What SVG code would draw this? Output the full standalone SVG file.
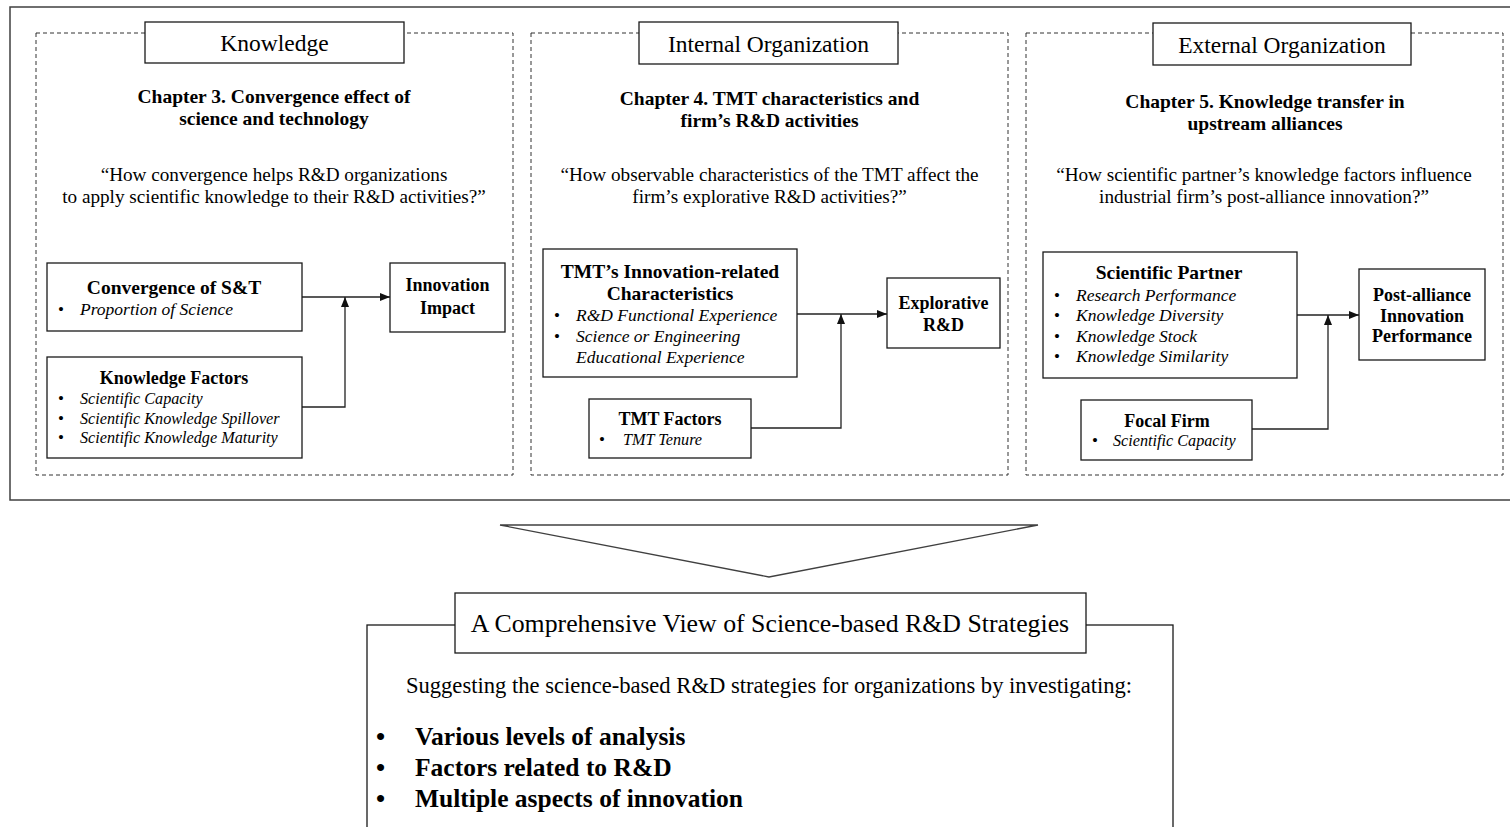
<svg xmlns="http://www.w3.org/2000/svg" width="1510" height="827" viewBox="0 0 1510 827">
<defs>
<style>
.t{font-family:"Liberation Serif","Times New Roman",serif;fill:#000}
.box{fill:#fff;stroke:#1a1a1a;stroke-width:1.3}
.panel{fill:none;stroke:#333;stroke-width:1;stroke-dasharray:4 3}
.outer{fill:none;stroke:#404040;stroke-width:1.5}
.hdr{font-size:23.5px;text-anchor:middle}
.ch{font-size:19.5px;font-weight:bold;text-anchor:middle}
.q{font-size:19.2px;text-anchor:middle}
.bt{font-size:19.5px;font-weight:bold;text-anchor:middle}
.bs{font-size:18px;font-weight:bold;text-anchor:middle}
.it{font-size:17.5px;font-style:italic}
.its{font-size:16.2px;font-style:italic}
.bul{font-size:17px}
.conn{fill:none;stroke:#222;stroke-width:1.3}
.big{font-size:25.8px;text-anchor:middle}
.sug{font-size:22.6px;text-anchor:middle}
.bb{font-size:25.5px;font-weight:bold}
</style>
<marker id="ah" markerWidth="10" markerHeight="8" refX="10" refY="4" orient="auto" markerUnits="userSpaceOnUse">
<path d="M0,0 L10,4 L0,8 Z" fill="#111"/>
</marker>
</defs>
<rect width="1510" height="827" fill="#fff"/>
<rect class="outer" x="10" y="7" width="1505" height="493"/>

<g id="panel-knowledge">
<rect class="panel" x="36" y="33" width="477" height="442"/>
<rect class="box" x="145" y="22" width="259" height="41"/>
<text class="t hdr" x="274.5" y="51">Knowledge</text>
<text class="t ch" x="274" y="102.5">Chapter 3. Convergence effect of</text>
<text class="t ch" x="274" y="124.5">science and technology</text>
<text class="t q" x="274" y="181">“How convergence helps R&amp;D organizations</text>
<text class="t q" x="274" y="203">to apply scientific knowledge to their R&amp;D activities?”</text>
</g>

<g id="panel-internal">
<rect class="panel" x="531" y="33" width="477" height="442"/>
<rect class="box" x="639" y="22" width="259" height="42"/>
<text class="t hdr" x="768.5" y="52">Internal Organization</text>
<text class="t ch" x="769.5" y="105">Chapter 4. TMT characteristics and</text>
<text class="t ch" x="769.5" y="127">firm’s R&amp;D activities</text>
<text class="t q" x="769.5" y="181">“How observable characteristics of the TMT affect the</text>
<text class="t q" x="769.5" y="203">firm’s explorative R&amp;D activities?”</text>
</g>

<g id="panel-external">
<rect class="panel" x="1026" y="33" width="477" height="442"/>
<rect class="box" x="1153" y="23" width="258" height="42"/>
<text class="t hdr" x="1282" y="53">External Organization</text>
<text class="t ch" x="1265" y="108">Chapter 5. Knowledge transfer in</text>
<text class="t ch" x="1265" y="130">upstream alliances</text>
<text class="t q" x="1264" y="181">“How scientific partner’s knowledge factors influence</text>
<text class="t q" x="1264" y="203">industrial firm’s post-alliance innovation?”</text>
</g>

<g id="connectors">
<line class="conn" x1="302" y1="297" x2="390" y2="297" marker-end="url(#ah)"/>
<polyline class="conn" points="302,407 345,407 345,297" marker-end="url(#ah)"/>
<line class="conn" x1="797" y1="314" x2="887" y2="314" marker-end="url(#ah)"/>
<polyline class="conn" points="751,428 841,428 841,314" marker-end="url(#ah)"/>
<line class="conn" x1="1297" y1="315" x2="1359" y2="315" marker-end="url(#ah)"/>
<polyline class="conn" points="1252,429 1328,429 1328,315" marker-end="url(#ah)"/>
</g>

<g id="node-convergence">
<rect class="box" x="47" y="263" width="255" height="68"/>
<text class="t bt" x="174" y="294">Convergence of S&amp;T</text>
<text class="t bul" x="58" y="315">•</text>
<text class="t it" x="80" y="315">Proportion of Science</text>
</g>

<g id="node-innovation-impact">
<rect class="box" x="390" y="263" width="115" height="69"/>
<text class="t bs" x="447.5" y="291">Innovation</text>
<text class="t bs" x="447.5" y="314">Impact</text>
</g>

<g id="node-knowledge-factors">
<rect class="box" x="47" y="357" width="255" height="101"/>
<text class="t bs" x="174" y="384">Knowledge Factors</text>
<text class="t bul" x="58" y="404">•</text>
<text class="t its" x="80" y="404">Scientific Capacity</text>
<text class="t bul" x="58" y="424">•</text>
<text class="t its" x="80" y="424">Scientific Knowledge Spillover</text>
<text class="t bul" x="58" y="443">•</text>
<text class="t its" x="80" y="443">Scientific Knowledge Maturity</text>
</g>

<g id="node-tmt-characteristics">
<rect class="box" x="543" y="249" width="254" height="128"/>
<text class="t bt" x="670" y="278">TMT’s Innovation-related</text>
<text class="t bt" x="670" y="300">Characteristics</text>
<text class="t bul" x="554" y="321">•</text>
<text class="t it" x="576" y="321">R&amp;D Functional Experience</text>
<text class="t bul" x="554" y="342">•</text>
<text class="t it" x="576" y="342">Science or Engineering</text>
<text class="t it" x="576" y="363">Educational Experience</text>
</g>

<g id="node-explorative">
<rect class="box" x="887" y="278" width="113" height="70"/>
<text class="t bs" x="943.5" y="309">Explorative</text>
<text class="t bs" x="943.5" y="331">R&amp;D</text>
</g>

<g id="node-tmt-factors">
<rect class="box" x="589" y="399" width="162" height="59"/>
<text class="t bs" x="670" y="425">TMT Factors</text>
<text class="t bul" x="599" y="445">•</text>
<text class="t its" x="623" y="445">TMT Tenure</text>
</g>

<g id="node-scientific-partner">
<rect class="box" x="1043" y="252" width="254" height="126"/>
<text class="t bt" x="1169" y="279">Scientific Partner</text>
<text class="t bul" x="1054" y="301">•</text>
<text class="t it" x="1076" y="301">Research Performance</text>
<text class="t bul" x="1054" y="321">•</text>
<text class="t it" x="1076" y="321">Knowledge Diversity</text>
<text class="t bul" x="1054" y="342">•</text>
<text class="t it" x="1076" y="342">Knowledge Stock</text>
<text class="t bul" x="1054" y="362">•</text>
<text class="t it" x="1076" y="362">Knowledge Similarity</text>
</g>

<g id="node-post-alliance">
<rect class="box" x="1359" y="269" width="126" height="91"/>
<text class="t bs" x="1422" y="301">Post-alliance</text>
<text class="t bs" x="1422" y="322">Innovation</text>
<text class="t bs" x="1422" y="342">Performance</text>
</g>

<g id="node-focal-firm">
<rect class="box" x="1081" y="400" width="171" height="60"/>
<text class="t bs" x="1167" y="427">Focal Firm</text>
<text class="t bul" x="1092" y="446">•</text>
<text class="t its" x="1113" y="446">Scientific Capacity</text>
</g>

<g id="chevron">
<polygon points="500,525 1038,525 769,577" fill="#fff" stroke="#404040" stroke-width="1.3"/>
</g>

<g id="node-comprehensive">
<rect x="367" y="625" width="806" height="220" fill="#fff" stroke="#1a1a1a" stroke-width="1.3"/>
<rect class="box" x="455" y="593" width="631" height="60"/>
<text class="t big" x="770" y="632">A Comprehensive View of Science-based R&amp;D Strategies</text>
<text class="t sug" x="769" y="693">Suggesting the science-based R&amp;D strategies for organizations by investigating:</text>
<text class="t" x="376" y="745" font-size="26" font-weight="bold">•</text>
<text class="t bb" x="415" y="745">Various levels of analysis</text>
<text class="t" x="376" y="776" font-size="26" font-weight="bold">•</text>
<text class="t bb" x="415" y="776">Factors related to R&amp;D</text>
<text class="t" x="376" y="807" font-size="26" font-weight="bold">•</text>
<text class="t bb" x="415" y="807">Multiple aspects of innovation</text>
</g>
</svg>
